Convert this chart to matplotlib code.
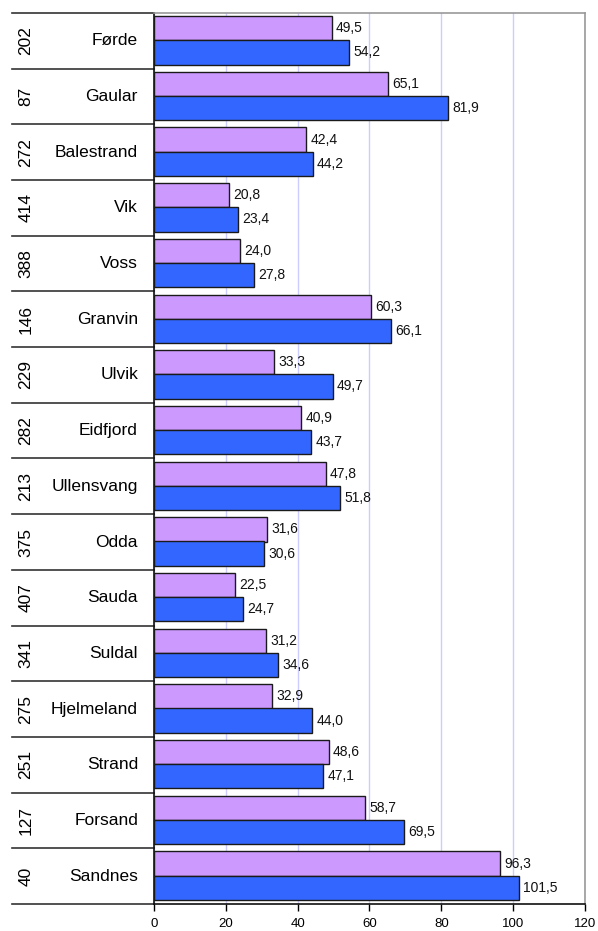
import numpy as np
import matplotlib.pyplot as plt
import matplotlib.transforms as mtransforms

plt.rcParams["font.family"] = ["Liberation Sans", "DejaVu Sans"]

# data
codes = ["202", "87", "272", "414", "388", "146", "229", "282",
         "213", "375", "407", "341", "275", "251", "127", "40"]
names = ["Førde", "Gaular", "Balestrand", "Vik", "Voss", "Granvin", "Ulvik", "Eidfjord",
         "Ullensvang", "Odda", "Sauda", "Suldal", "Hjelmeland", "Strand", "Forsand", "Sandnes"]
series_a = [49.5, 65.1, 42.4, 20.8, 24.0, 60.3, 33.3, 40.9,
            47.8, 31.6, 22.5, 31.2, 32.9, 48.6, 58.7, 96.3]
series_b = [54.2, 81.9, 44.2, 23.4, 27.8, 66.1, 49.7, 43.7,
            51.8, 30.6, 24.7, 34.6, 44.0, 47.1, 69.5, 101.5]
x_ticks = [0, 20, 40, 60, 80, 100, 120]

fig = plt.figure(figsize=(5.98, 9.31), dpi=100)
ax = fig.add_axes([154 / 598, 1 - 904 / 931, 431 / 598, 891 / 931])

pos = np.arange(len(names))
h = 0.436
bars_a = ax.barh(pos - 0.227, series_a, height=h, color="#CC99FF",
                 edgecolor="#1a1a1a", linewidth=1.0, zorder=3)
bars_b = ax.barh(pos + 0.207, series_b, height=h, color="#3366FF",
                 edgecolor="#1a1a1a", linewidth=1.0, zorder=3)

def fmt(v):
    return f"{v:.1f}".replace(".", ",")

for bars, vals in [(bars_a, series_a), (bars_b, series_b)]:
    for b, v in zip(bars, vals):
        ax.text(v + 1.2, b.get_y() + b.get_height() / 2, fmt(v),
                va="center", ha="left", fontsize=10, color="#111111")

ax.set_xlim(0, 120)
ax.set_ylim(len(names) - 0.5, -0.5)
ax.set_xticks(x_ticks)
ax.set_xticklabels([str(t) for t in x_ticks], fontsize=9.5)
ax.tick_params(axis="x", direction="out", length=5, width=1, pad=5)
ax.set_yticks([])
ax.xaxis.grid(True, color="#CCCCFF", linewidth=1)
ax.set_axisbelow(True)

for side in ["top", "right"]:
    ax.spines[side].set_color("#999999")
    ax.spines[side].set_linewidth(1.2)
for side in ["left", "bottom"]:
    ax.spines[side].set_color("#111111")
    ax.spines[side].set_linewidth(1.2)

# category table on the left
trans = mtransforms.blended_transform_factory(ax.transAxes, ax.transData)
x0 = (12 - 154) / 431
for k in range(len(names) + 1):
    ax.plot([x0, 0], [k - 0.5, k - 0.5], transform=trans, color="#333333",
            linewidth=1.2, clip_on=False)
for i, (c, n) in enumerate(zip(codes, names)):
    ax.text((26 - 154) / 431, i, c, transform=trans, rotation=90,
            ha="center", va="center", fontsize=12.5)
    ax.text((138 - 154) / 431, i, n, transform=trans,
            ha="right", va="center", fontsize=12.5)

fig.savefig("out.png", dpi=100)
